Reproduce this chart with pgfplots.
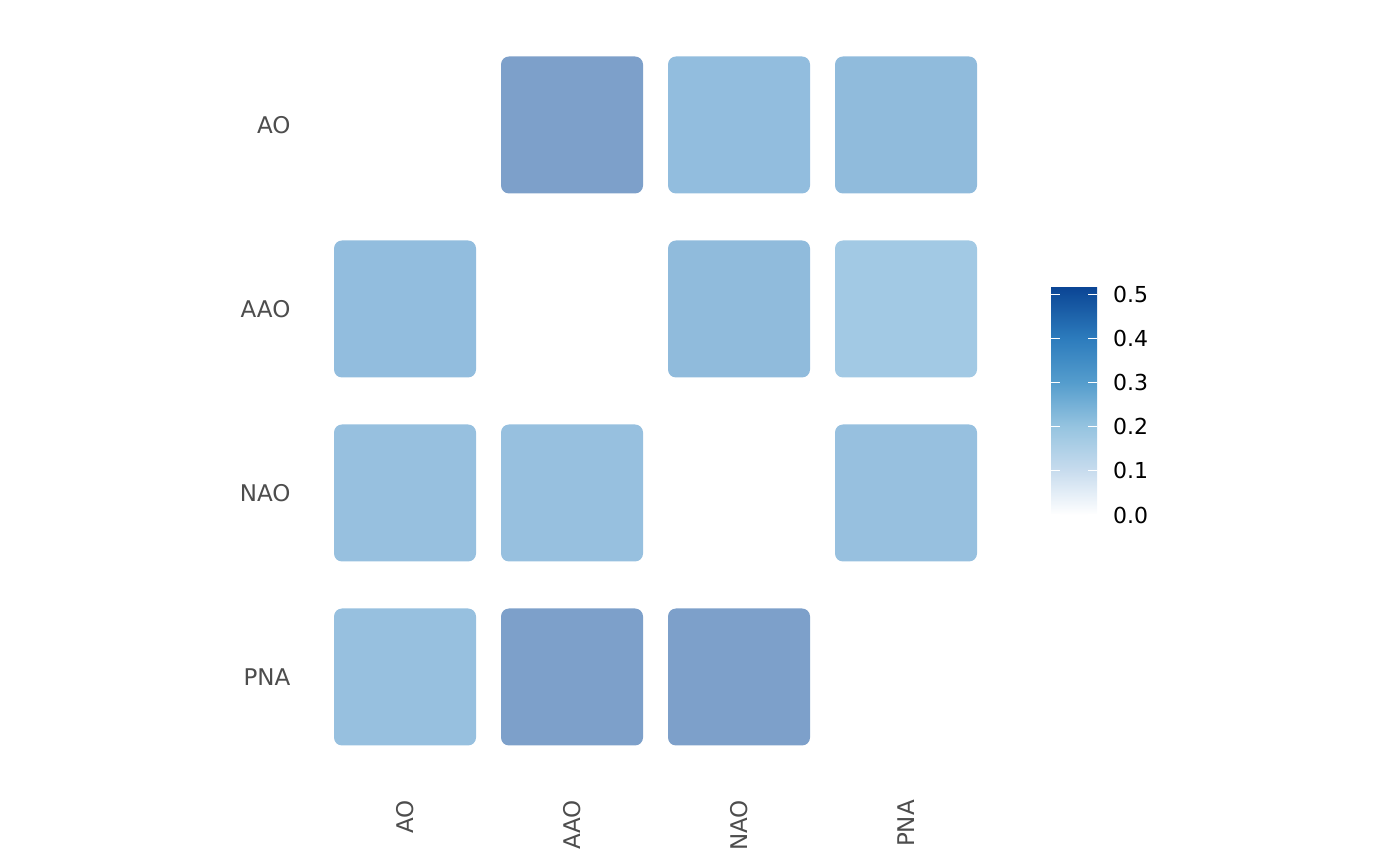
\documentclass[border=0pt]{standalone}
\usepackage{fontspec}
\setmainfont{DejaVu Sans}
\usepackage{pgfplots}
\usepackage{pgfplotstable}
\pgfplotsset{compat=1.18}
\usetikzlibrary{calc}
\definecolor{axisgray}{RGB}{77,77,77}
\pgfdeclareplotmark{rtile}{%
  \pgfpathmoveto{\pgfpoint{-31.5pt}{-34.25pt}}%
  \pgfpathlineto{\pgfpoint{31.5pt}{-34.25pt}}%
  \pgfpatharc{-90}{0}{4pt}%
  \pgfpathlineto{\pgfpoint{35.5pt}{30.25pt}}%
  \pgfpatharc{0}{90}{4pt}%
  \pgfpathlineto{\pgfpoint{-31.5pt}{34.25pt}}%
  \pgfpatharc{90}{180}{4pt}%
  \pgfpathlineto{\pgfpoint{-35.5pt}{-30.25pt}}%
  \pgfpatharc{180}{270}{4pt}%
  \pgfpathclose
  \pgfusepathqfill}
\pgfplotstableread{
x y v
2 4 0.49
3 4 0.37
4 4 0.38
1 3 0.37
3 3 0.38
4 3 0.30
1 2 0.35
2 2 0.35
4 2 0.35
1 1 0.35
2 1 0.49
3 1 0.49
}\tiles
\begin{document}
\begin{tikzpicture}
\useasboundingbox (0,0) rectangle (700pt,433pt);
\begin{axis}[
  at={(160.75pt,48.5pt)}, anchor=south west,
  scale only axis, width=334pt, height=368pt,
  xmin=0.5, xmax=4.5, ymin=0.5, ymax=4.5,
  xtick={1,2,3,4}, xticklabels={AO,AAO,NAO,PNA},
  ytick={1,2,3,4}, yticklabels={PNA,NAO,AAO,AO},
  axis line style={draw=none},
  major tick length=0pt,
  tick style={draw=none},
  tick label style={font=\fontsize{11.5}{13}\selectfont, text=axisgray},
  xticklabel style={rotate=90, anchor=east, xshift=-12pt},
  yticklabel style={anchor=east, xshift=-12pt},
  clip=false,
  colormap={blues}{rgb255(0pt)=(255,255,255); rgb255(10pt)=(200,220,238); rgb255(20pt)=(150,196,224); rgb255(30pt)=(85,157,205); rgb255(40pt)=(45,124,189); rgb255(52pt)=(10,68,148)},
  point meta min=0, point meta max=0.52,
  colorbar,
  colorbar/width=23pt,
  colorbar style={
    at={($(parent axis.south west)+(356.25pt,127pt)$)}, anchor=south west,
    scale only axis, width=23pt, height=114.5pt,
    ytick={0,0.1,0.2,0.3,0.4,0.5},
    axis line style={draw=none},
    tick align=inside, ytick pos=both, yticklabel pos=right,
    major tick length=4.5pt,
    tick style={white, line width=0.5pt},
    yticklabel style={font=\fontsize{11}{13}\selectfont, text=black, xshift=4.5pt,
      /pgf/number format/.cd, fixed, fixed zerofill, precision=1, assume math mode=true},
  },
]
\addplot[scatter, only marks, mark=rtile, point meta=explicit,
  scatter/use mapped color={draw=none, fill=mapped color},
  mark options={fill opacity=0.55}] table[x=x, y=y, meta=v] {\tiles};
\end{axis}
\end{tikzpicture}
\end{document}
